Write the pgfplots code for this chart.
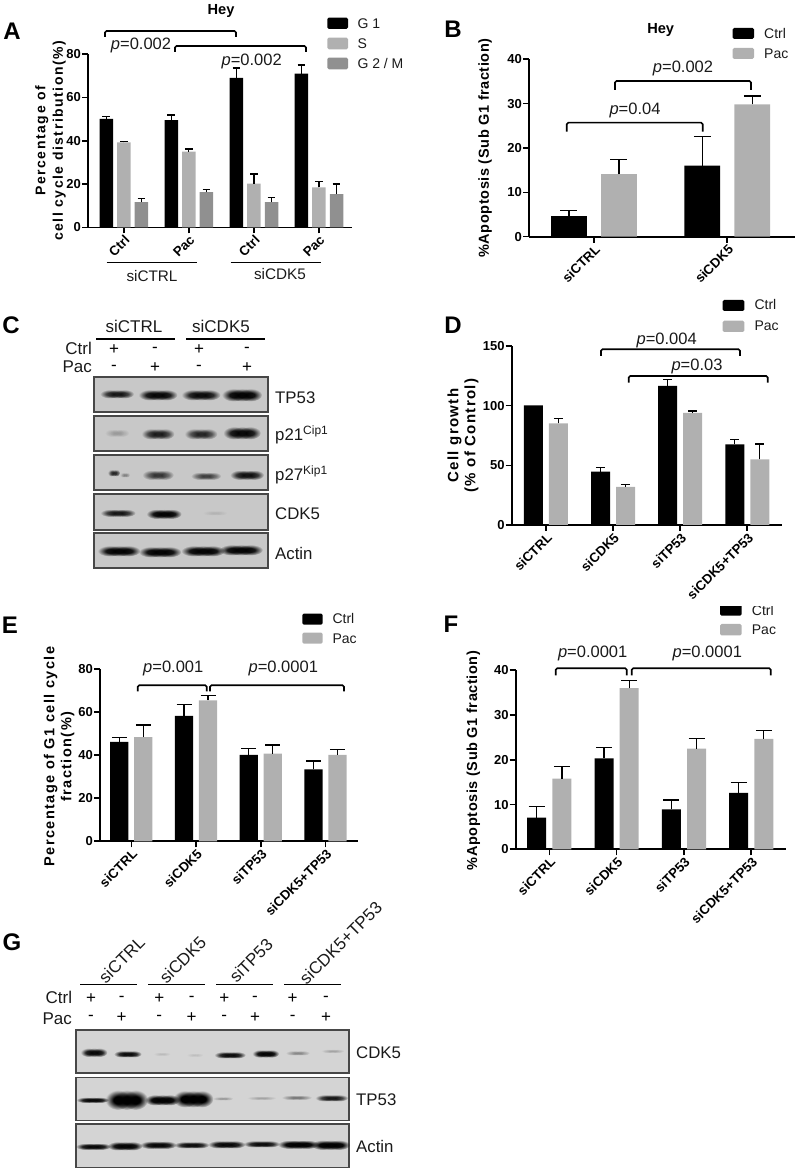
\documentclass[border=0pt]{standalone}
\usepackage{fontspec}
\setmainfont{Liberation Sans}
\usepackage{pgfplots}
\pgfplotsset{compat=1.18}
\usetikzlibrary{fadings}
\newcommand\fs[1]{\fontsize{#1}{#1}\selectfont}
\newcommand\lf[3]{\fontsize{#1}{#2}\selectfont\bfseries\addfontfeatures{LetterSpace=#3}}
\definecolor{gA}{HTML}{B0B0B0}
\definecolor{gB}{HTML}{909090}
\definecolor{blotC}{HTML}{C8C8C8}
\definecolor{blotG}{HTML}{D4D4D4}
\definecolor{txt}{HTML}{1A1A1A}
\pgfdeclareradialshading{bandsh}{\pgfpointorigin}{color(0bp)=(white);color(9bp)=(white);color(25bp)=(black);color(50bp)=(black)}
\pgfdeclarefading{bandf}{\pgfuseshading{bandsh}}
\newcommand\band[5]{%
 \fill[black,opacity=#5,path fading=bandf] ({#1-#3/4},#2) ellipse[x radius={#3*0.36},y radius={#4/2}];
 \fill[black,opacity=#5,path fading=bandf] ({#1},#2) ellipse[x radius={#3*0.36},y radius={#4/2}];
 \fill[black,opacity=#5,path fading=bandf] ({#1+#3/4},#2) ellipse[x radius={#3*0.36},y radius={#4/2}];
}
\newcommand\blot[5]{\fill[#5] (#1,#2) rectangle (#3,#4); \draw[line width=1.4pt,draw=black!72] (#1,#2) rectangle (#3,#4);}
\newcommand\bracket[4]{\draw[line width=1.6pt,rounded corners=1.5pt] (#1,#4) -- (#1,#3) -- (#2,#3) -- (#2,#4);}
\newcommand\pval[3]{\node[inner sep=0,font=\fs{16.5},text=txt] at (#1,#2) {\textit{p}=#3};}
\newcommand\panel[3]{\node[inner sep=0,font=\fs{24}\bfseries] at (#1,#2) {#3};}
\newcommand\lrect[5]{\fill[#5,rounded corners=1.5pt] (#1,#3) rectangle (#2,#4);}
\newcommand\ltext[3]{\node[anchor=west,inner sep=0,font=\fs{14},text=txt] at (#1,#2) {#3};}
\pgfplotsset{
  panel/.style={scale only axis,axis x line=bottom,axis y line=left,
    axis line style={-,line width=1.8pt},
    tick style={black,line width=1.6pt},major tick length=6pt,tick pos=left,tick align=outside,
    ymin=0,clip=false,xtick={0,1,2,3},minor tick num=0,
    /pgf/number format/assume math mode=true,
    yticklabel style={font=\fs{13}\bfseries,inner sep=1pt},
    xticklabel style={rotate=45,anchor=north east,font=\fs{13.3}\bfseries,inner sep=0.5pt},
  },
  barp/.style n args={4}{ybar,bar width=#1,bar shift=#2,fill=#3,draw=none,
    error bars/.cd,y dir=plus,y explicit,
    error bar style={line width=1.4pt,black,xshift=#2},
    error mark options={line width=1.4pt,mark size=#4,black,rotate=90}},
}
\begin{document}
\begin{tikzpicture}[x=1pt,y=1pt]
\path[use as bounding box] (0,0) rectangle (800,1171);

% ---------- A
\begin{axis}[panel,at={(88pt,943.5pt)},anchor=south west,width=264pt,height=173.5pt,
  xmin=-0.55,xmax=3.51,ymax=80,ytick={0,20,40,60,80},xticklabels={Ctrl,Pac,Ctrl,Pac},
  ylabel={Percentage of\\cell cycle distribution(\%)},
  ylabel style={at={(axis description cs:-0.142,0.5)},anchor=center,align=center,font=\lf{14}{17.5}{11}}]
\addplot[barp={13.5pt}{-17.5pt}{black}{3.8pt}] coordinates {(0,50.1) +- (0,1.1) (1,49.5) +- (0,2.3) (2,69) +- (0,4.5) (3,71) +- (0,4)};
\addplot[barp={13.5pt}{0pt}{gA}{3.8pt}] coordinates {(0,39.2) +- (0,0.5) (1,35) +- (0,1.2) (2,20.2) +- (0,4.4) (3,18.5) +- (0,2.7)};
\addplot[barp={13.5pt}{17.7pt}{gB}{3.8pt}] coordinates {(0,11.7) +- (0,1.7) (1,16.3) +- (0,1.2) (2,11.7) +- (0,2.1) (3,15.4) +- (0,4.6)};
\end{axis}

% ---------- B
\begin{axis}[panel,at={(529pt,934.3pt)},anchor=south west,width=266pt,height=177.4pt,
  xmin=-0.4875,xmax=1.508,ymax=40,ytick={0,10,20,30,40},xtick={0,1},xticklabels={siCTRL,siCDK5},
  ylabel={\%Apoptosis (Sub G1 fraction)},
  ylabel style={at={(axis description cs:-0.165,0.5)},anchor=center,font=\lf{14.5}{14.5}{4}}]
\addplot[barp={35.7pt}{-25pt}{black}{8.5pt}] coordinates {(0,4.66) +- (0,1.2) (1,16) +- (0,6.6)};
\addplot[barp={35.7pt}{25pt}{gA}{8.5pt}] coordinates {(0,14.1) +- (0,3.3) (1,29.85) +- (0,1.85)};
\end{axis}

% ---------- D
\begin{axis}[panel,at={(511.7pt,646pt)},anchor=south west,width=270pt,height=179pt,
  xmin=-0.511,xmax=3.513,ymax=150,ytick={0,50,100,150},xticklabels={siCTRL,siCDK5,siTP53,siCDK5+TP53},
  ylabel={Cell growth\\(\% of Control)},
  ylabel style={at={(axis description cs:-0.18,0.5)},anchor=center,align=center,font=\lf{15}{17}{9}}]
\addplot[barp={19pt}{-12.5pt}{black}{4.6pt}] coordinates {(0,100.3) (1,44.7) +- (0,3.6) (2,116.5) +- (0,5.3) (3,67.6) +- (0,4.2)};
\addplot[barp={19pt}{12.5pt}{gA}{4.6pt}] coordinates {(0,85.2) +- (0,4.2) (1,32) +- (0,1.8) (2,94) +- (0,1.5) (3,55) +- (0,12.9)};
\end{axis}

% ---------- E
\begin{axis}[panel,at={(100pt,329.7pt)},anchor=south west,width=258.3pt,height=172pt,
  xmin=-0.484,xmax=3.508,ymax=80,ytick={0,20,40,60,80},xticklabels={siCTRL,siCDK5,siTP53,siCDK5+TP53},
  ylabel={Percentage of G1 cell cycle\\fraction(\%)},
  ylabel style={at={(axis description cs:-0.158,0.492)},anchor=center,align=center,font=\lf{14.5}{17}{10}}]
\addplot[barp={18.3pt}{-12pt}{black}{7.5pt}] coordinates {(0,46.2) +- (0,2) (1,58.3) +- (0,5.3) (2,40.2) +- (0,3.1) (3,33.5) +- (0,3.9)};
\addplot[barp={18.3pt}{12pt}{gA}{7.5pt}] coordinates {(0,48.5) +- (0,5.5) (1,65.6) +- (0,2.3) (2,40.8) +- (0,4) (3,40.2) +- (0,2.6)};
\end{axis}

% ---------- F
\begin{axis}[panel,at={(515.7pt,321.7pt)},anchor=south west,width=270pt,height=179pt,
  xmin=-0.5,xmax=3.513,ymax=40,ytick={0,10,20,30,40},xticklabels={siCTRL,siCDK5,siTP53,siCDK5+TP53},
  ylabel={\%Apoptosis (Sub G1 fraction)},
  ylabel style={at={(axis description cs:-0.157,0.496)},anchor=center,font=\lf{14.5}{14.5}{4}}]
\addplot[barp={19pt}{-12.6pt}{black}{8pt}] coordinates {(0,7.1) +- (0,2.4) (1,20.3) +- (0,2.4) (2,8.9) +- (0,2.1) (3,12.6) +- (0,2.3)};
\addplot[barp={19pt}{12.6pt}{gA}{8pt}] coordinates {(0,15.8) +- (0,2.7) (1,36) +- (0,1.7) (2,22.5) +- (0,2.2) (3,24.7) +- (0,1.8)};
\end{axis}

\begin{scope}[x=1pt,y=-1pt,yshift=1171pt]
% --- panel letters
\panel{12}{31}{A}\panel{453}{29}{B}\panel{11}{325}{C}\panel{453}{325}{D}\panel{10}{625}{E}\panel{451}{624}{F}\panel{12}{942}{G}
% --- A annotations
\node[inner sep=0,font=\fs{14.6}\bfseries] at (221,11) {Hey};
\bracket{105}{236}{31}{37}\bracket{175}{306}{46}{52}
\pval{141}{45}{0.002}\pval{251.7}{61}{0.002}
\lrect{327.3}{348}{17.7}{29}{black}\lrect{327.3}{348}{37.7}{49.3}{gA}\lrect{327.3}{348}{57.7}{69.3}{gB}
\ltext{357.3}{23.3}{G 1}\ltext{357.3}{43.3}{S}\ltext{357.3}{63.3}{G 2 / M}
\draw[line width=1.4pt] (106.7,262.7) -- (196.7,262.7); \draw[line width=1.4pt] (230.7,262.7) -- (321,262.7);
\node[inner sep=0,font=\fs{15.3},text=txt] at (152,276) {siCTRL};
\node[inner sep=0,font=\fs{15.3},text=txt] at (280,274) {siCDK5};
% --- B annotations
\node[inner sep=0,font=\fs{14.6}\bfseries] at (660.7,30) {Hey};
\bracket{566.7}{702.7}{122.7}{131.7}\bracket{615}{751}{81}{90}
\pval{635}{110}{0.04}\pval{683}{68}{0.002}
\lrect{732.7}{754}{28}{39}{black}\lrect{732.7}{754}{48}{59}{gA}
\ltext{764}{33.5}{Ctrl}\ltext{764}{54}{Pac}
% --- D annotations
\bracket{601}{740}{349.3}{356}\bracket{628.7}{767.7}{376}{382.7}
\pval{666.7}{340}{0.004}\pval{697}{366}{0.03}
\lrect{722.7}{744.3}{300}{311}{black}\lrect{722.7}{744.3}{320.7}{332}{gA}
\ltext{754.3}{305}{Ctrl}\ltext{754.3}{326}{Pac}
% --- E annotations
\bracket{137.7}{206.7}{685.3}{691.3}\bracket{210}{344}{685.3}{691.3}
\pval{173.3}{668}{0.001}\pval{283.3}{668}{0.0001}
\lrect{302.3}{322.7}{613.7}{624.7}{black}\lrect{302.3}{322.7}{632.7}{643.7}{gA}
\ltext{332.3}{618.7}{Ctrl}\ltext{332.3}{638.3}{Pac}
% --- F annotations
\bracket{555.7}{626.7}{668.3}{675.3}\bracket{631.7}{770.7}{668.3}{675.3}
\pval{592.7}{653.3}{0.0001}\pval{707.3}{653.3}{0.0001}
\lrect{720}{741.7}{604}{615.7}{black}\lrect{720}{741.7}{624}{635.3}{gA}
\ltext{751.7}{610.5}{Ctrl}\ltext{751.7}{630}{Pac}
\fill[white] (715,598) rectangle (780,606);
% --- C blot
\node[inner sep=0,font=\fs{17},text=txt] at (134,326) {siCTRL};
\node[inner sep=0,font=\fs{17},text=txt] at (221,326) {siCDK5};
\draw[line width=1.4pt] (96,339) -- (175,339); \draw[line width=1.4pt] (186,339) -- (265,339);
\node[anchor=east,inner sep=0,font=\fs{17},text=txt] at (92,348) {Ctrl};
\node[anchor=east,inner sep=0,font=\fs{17},text=txt] at (92,367) {Pac};
\foreach \x/\a/\b in {114/+/-,155/-/+,199/+/-,247/-/+}{
  \node[inner sep=0,font=\fs{17}] at (\x,350) {\a};
  \node[inner sep=0,font=\fs{17}] at (\x,368) {\b};}
\blot{94}{377}{268}{412}{blotC}
\band{117}{394}{28}{9}{.7}\band{158}{395}{32}{11}{.85}\band{201}{395}{32}{11}{.8}\band{242}{395}{33}{13}{.9}
\blot{94}{416}{268}{451}{blotC}
\band{117}{433}{20}{8}{.12}\band{158}{434}{27}{11}{.65}\band{201}{434}{27}{11}{.6}\band{242}{433}{31}{13}{.85}
\blot{94}{455}{268}{490}{blotC}
\band{114}{473}{10}{7}{.6}\band{125}{475}{8}{5}{.2}\band{158}{475}{26}{10}{.5}\band{206}{476}{25}{8}{.45}\band{247}{475}{28}{10}{.75}
\blot{94}{494}{268}{530}{blotC}
\band{118}{513}{29}{8}{.7}\band{164}{514}{29}{10}{.9}\band{215}{513}{20}{5}{.05}
\blot{94}{533}{268}{568}{blotC}
\band{119}{551}{35}{11}{.9}\band{160}{552}{35}{11}{.9}\band{203}{551}{36}{11}{.9}\band{241}{550}{36}{11}{.9}
\node[anchor=west,inner sep=0,font=\fs{16.8},text=txt] at (275,398) {TP53};
\node[anchor=west,inner sep=0,font=\fs{16.8},text=txt] at (275,435) {p21\raisebox{6pt}{\fs{12}Cip1}};
\node[anchor=west,inner sep=0,font=\fs{16.8},text=txt] at (275,475) {p27\raisebox{6pt}{\fs{12}Kip1}};
\node[anchor=west,inner sep=0,font=\fs{16.8},text=txt] at (275,514) {CDK5};
\node[anchor=west,inner sep=0,font=\fs{16.8},text=txt] at (275,554) {Actin};
% --- G blot
\node[rotate=45,inner sep=0,font=\fs{17},text=txt] at (121.7,960) {siCTRL};
\node[rotate=45,inner sep=0,font=\fs{17},text=txt] at (182.7,960) {siCDK5};
\node[rotate=45,inner sep=0,font=\fs{17},text=txt] at (251,960.7) {siTP53};
\node[rotate=45,inner sep=0,font=\fs{17},text=txt] at (340.7,943) {siCDK5+TP53};
\foreach \a/\b in {80/136.7,148/204.7,216/272.7,284/340.7}{\draw[line width=1.4pt] (\a,984.7) -- (\b,984.7);}
\node[anchor=east,inner sep=0,font=\fs{17},text=txt] at (72.3,997.5) {Ctrl};
\node[anchor=east,inner sep=0,font=\fs{17},text=txt] at (72,1018.5) {Pac};
\foreach \x/\a/\b in {91/+/-,121.7/-/+,159.3/+/-,191.7/-/+,224.3/+/-,255/-/+,292.7/+/-,326/-/+}{
  \node[inner sep=0,font=\fs{17}] at (\x,999) {\a};
  \node[inner sep=0,font=\fs{17}] at (\x,1018) {\b};}
\blot{76}{1030}{349}{1073}{blotG}
\band{94}{1052.5}{22}{9}{.85}\band{127.7}{1054}{23}{7}{.8}\band{162}{1054}{14}{4}{.06}\band{195}{1055}{14}{4}{.05}
\band{230}{1055}{26}{7}{.8}\band{265.7}{1053.7}{22}{8}{.9}\band{297.7}{1053}{20}{5}{.2}\band{332.7}{1051}{19}{4}{.12}
\blot{76}{1077.3}{349}{1120.7}{blotG}
\band{92.7}{1100}{27}{6}{.85}\band{126.7}{1100}{35}{20}{1}\band{162.3}{1100}{29}{11}{.95}\band{193.3}{1099}{33}{17}{1}
\band{223}{1098.5}{17}{4}{.15}\band{261.7}{1098}{24}{4}{.12}\band{296.7}{1097.5}{25}{5}{.25}\band{331.7}{1098}{27}{7}{.7}
\blot{76}{1124}{349}{1167.3}{blotG}
\band{93.3}{1146.5}{29}{7}{.85}\band{125}{1146}{29}{9}{.9}\band{158.3}{1145}{30}{8}{.85}\band{191.7}{1145}{29}{7}{.8}
\band{226.7}{1144.5}{31}{8}{.85}\band{261.7}{1144}{30}{7}{.8}\band{298.3}{1144.5}{34}{9}{.95}\band{330.7}{1145}{32}{10}{.95}
\node[anchor=west,inner sep=0,font=\fs{16.8},text=txt] at (356,1052.7) {CDK5};
\node[anchor=west,inner sep=0,font=\fs{16.8},text=txt] at (356,1100) {TP53};
\node[anchor=west,inner sep=0,font=\fs{16.8},text=txt] at (356,1146.7) {Actin};
\end{scope}
\end{tikzpicture}
\end{document}
